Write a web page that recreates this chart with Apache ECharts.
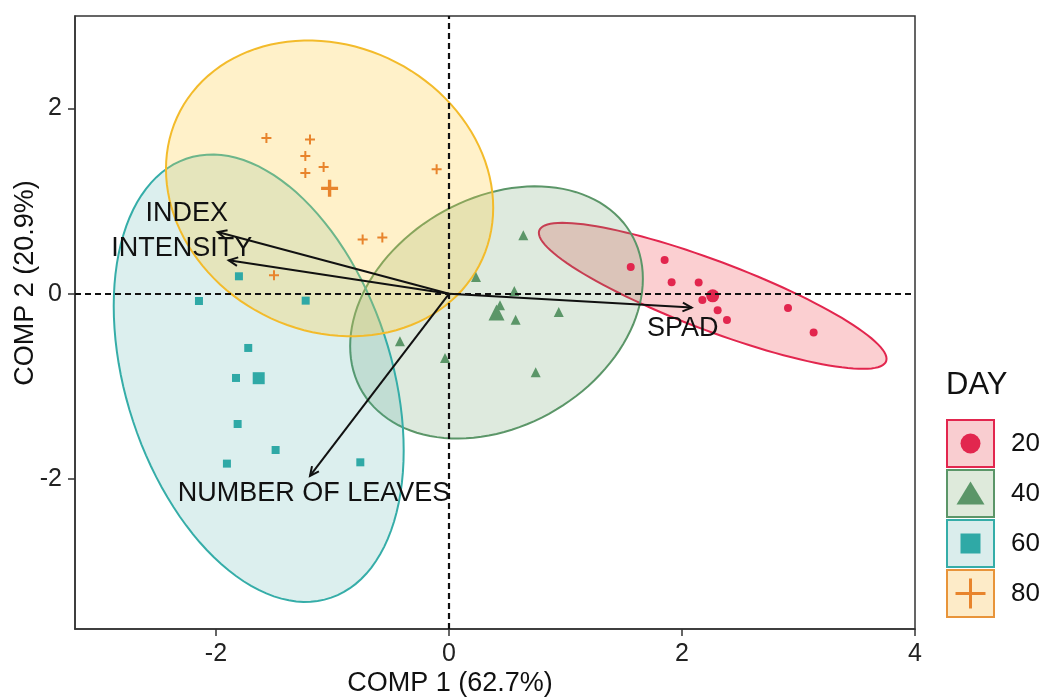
<!DOCTYPE html>
<html>
<head>
<meta charset="utf-8">
<title>PCA biplot by day</title>
<script src="https://cdn.jsdelivr.net/npm/echarts@6/dist/echarts.min.js"></script>
<style>
  html, body { margin: 0; padding: 0; background: #fff; }
  #chart { width: 1043px; height: 697px; }
</style>
</head>
<body>
<div id="chart"></div>
<script>
// ---- data ----
const days = ['20', '40', '60', '80'];

// individual scores (COMP 1, COMP 2)
const day20 = [[1.560, 0.289], [1.851, 0.365], [1.911, 0.124], [2.143, 0.121], [2.175, -0.067],
               [2.306, -0.178], [2.386, -0.283], [2.910, -0.153], [3.130, -0.419]];
const day40 = [[0.638, 0.632], [0.232, 0.181], [0.561, 0.030], [0.438, -0.124], [0.572, -0.279],
               [0.942, -0.197], [-0.421, -0.513], [-0.034, -0.693], [0.744, -0.848]];
const day60 = [[-1.803, 0.189], [-2.146, -0.078], [-1.230, -0.074], [-1.723, -0.585], [-1.828, -0.909],
               [-1.814, -1.406], [-1.488, -1.687], [-1.906, -1.834], [-0.761, -1.820]];
const day80 = [[-1.567, 1.683], [-1.193, 1.665], [-1.233, 1.488], [-1.076, 1.369], [-1.233, 1.305],
               [-0.106, 1.345], [-0.741, 0.585], [-0.572, 0.607], [-1.502, 0.200]];

// variable loadings
const variables = ['INDEX', 'INTENSITY', 'SPAD', 'NUMBER OF LEAVES'];
const loadings = [[-1.985, 0.667], [-1.891, 0.362], [2.083, -0.149], [-1.193, -1.967]];

const xTicks = [-2, 0, 2, 4];
const yTicks = [-2, 0, 2];
const xTitle = 'COMP 1 (62.7%)';
const yTitle = 'COMP 2 (20.9%)';
const legendTitle = 'DAY';

// ---- styles ----
const FONT = '"Liberation Sans", Arial, Helvetica, sans-serif';
const groupData = [day20, day40, day60, day80];
const pointColor = ['#E2264E', '#5B9668', '#2FA9A6', '#E8842C'];
const edgeColor = ['#E2264E', '#5B9668', '#35ADA8', '#F3BB2B'];
const fillColor = ['rgba(238,68,78,0.26)', 'rgba(100,155,100,0.21)', 'rgba(60,165,160,0.18)', 'rgba(255,205,60,0.28)'];
const keyEdge = ['#E2264E', '#5B9668', '#35ADA8', '#E8943A'];
const keyFill = ['#F9CDD0', '#DEEADB', '#DAEDEC', '#FDEBC8'];
const PLUS = 'path://M4,0H6V4H10V6H6V10H4V6H0V4H4Z';
const symbols = ['circle', 'triangle', 'rect', PLUS];
const pointSize = [8, 10, 8, 10];
const meanSize = [13, 16, 12, 17];
// text placement relative to each arrow tip, in pixels
const labelShift = [[-31, -18], [-47, -12], [-9, 21], [4, 18]];

// ---- helpers ----
function centroid(pts) {
  let sx = 0, sy = 0;
  pts.forEach(p => { sx += p[0]; sy += p[1]; });
  return [sx / pts.length, sy / pts.length];
}

// 95% normal-theory ellipse (sample covariance, F-based radius)
function ellipse(pts, level, segs) {
  const n = pts.length;
  const [mx, my] = centroid(pts);
  let sxx = 0, syy = 0, sxy = 0;
  pts.forEach(p => {
    const dx = p[0] - mx, dy = p[1] - my;
    sxx += dx * dx; syy += dy * dy; sxy += dx * dy;
  });
  sxx /= (n - 1); syy /= (n - 1); sxy /= (n - 1);
  const dfd = n - 1;
  const fq = (dfd / 2) * (Math.pow(1 - level, -2 / dfd) - 1);
  const r = Math.sqrt(2 * fq);
  const a = Math.sqrt(sxx), b = sxy / a, c = Math.sqrt(syy - b * b);
  const out = [];
  for (let i = 0; i <= segs; i++) {
    const t = 2 * Math.PI * i / segs;
    const ct = Math.cos(t), st = Math.sin(t);
    out.push([mx + r * a * ct, my + r * (b * ct + c * st)]);
  }
  return out;
}

const ellipses = groupData.map(g => ellipse(g, 0.95, 120));

// ---- series ----
const series = [];

groupData.forEach((g, i) => {
  series.push({
    type: 'custom',
    name: 'ellipse' + days[i],
    coordinateSystem: 'cartesian2d',
    data: [[0, 0]],
    z: 1,
    silent: true,
    renderItem: function (params, api) {
      const pts = ellipses[i].map(p => api.coord(p));
      return {
        type: 'polygon',
        shape: { points: pts },
        style: { fill: fillColor[i], stroke: edgeColor[i], lineWidth: 2 }
      };
    }
  });
});

// zero reference lines
series.push({
  type: 'scatter',
  data: [],
  z: 2,
  markLine: {
    silent: true,
    symbol: 'none',
    label: { show: false },
    lineStyle: { type: [6, 4], color: '#111', width: 2.2 },
    data: [{ xAxis: 0 }, { yAxis: 0 }],
    animation: false
  }
});

groupData.forEach((g, i) => {
  series.push({
    type: 'scatter',
    name: days[i],
    data: g,
    symbol: symbols[i],
    symbolSize: pointSize[i],
    itemStyle: { color: pointColor[i], opacity: 1 },
    z: 3
  });
  series.push({
    type: 'scatter',
    name: days[i] + ' mean',
    data: [centroid(g)],
    symbol: symbols[i],
    symbolSize: meanSize[i],
    itemStyle: { color: pointColor[i], opacity: 1 },
    z: 3
  });
});

// variable arrows
series.push({
  type: 'custom',
  coordinateSystem: 'cartesian2d',
  data: loadings.map((l, k) => [l[0], l[1], k]),
  z: 5,
  silent: true,
  renderItem: function (params, api) {
    const k = api.value(2);
    const o = api.coord([0, 0]);
    const e = api.coord([api.value(0), api.value(1)]);
    const ang = Math.atan2(e[1] - o[1], e[0] - o[0]);
    const hl = 10, ha = Math.PI / 7;
    const h1 = [e[0] - hl * Math.cos(ang - ha), e[1] - hl * Math.sin(ang - ha)];
    const h2 = [e[0] - hl * Math.cos(ang + ha), e[1] - hl * Math.sin(ang + ha)];
    const sh = labelShift[k];
    return {
      type: 'group',
      children: [
        { type: 'line', shape: { x1: o[0], y1: o[1], x2: e[0], y2: e[1] },
          style: { stroke: '#111', lineWidth: 2 } },
        { type: 'polyline', shape: { points: [h1, e, h2] },
          style: { stroke: '#111', lineWidth: 2, fill: null } },
        { type: 'text', x: e[0] + sh[0], y: e[1] + sh[1],
          style: { text: variables[k], fill: '#111', font: '27px ' + FONT,
                   align: 'center', verticalAlign: 'middle' } }
      ]
    };
  }
});

// ---- legend (drawn as graphics) ----
const graphics = [];
const KX = 947, KY = 420, KS = 47, KP = 50;
graphics.push({ type: 'text', left: 946, top: 370,
  style: { text: legendTitle, fill: '#111', font: '31px ' + FONT } });
days.forEach((d, i) => {
  const y0 = KY + i * KP;
  const cx = KX + KS / 2, cy = y0 + KS / 2;
  graphics.push({ type: 'rect', shape: { x: KX, y: y0, width: KS, height: KS },
    style: { fill: keyFill[i], stroke: keyEdge[i], lineWidth: 2 } });
  let sym;
  if (i === 0) sym = { type: 'circle', shape: { cx: cx, cy: cy, r: 10 }, style: { fill: pointColor[i] } };
  else if (i === 1) sym = { type: 'polygon', shape: { points: [[cx, cy - 12], [cx + 14, cy + 11], [cx - 14, cy + 11]] }, style: { fill: pointColor[i] } };
  else if (i === 2) sym = { type: 'rect', shape: { x: cx - 10, y: cy - 10, width: 20, height: 20 }, style: { fill: pointColor[i] } };
  else sym = { type: 'group', children: [
    { type: 'line', shape: { x1: cx - 15, y1: cy, x2: cx + 15, y2: cy }, style: { stroke: pointColor[i], lineWidth: 3 } },
    { type: 'line', shape: { x1: cx, y1: cy - 15, x2: cx, y2: cy + 15 }, style: { stroke: pointColor[i], lineWidth: 3 } }
  ] };
  graphics.push(sym);
  graphics.push({ type: 'text', x: 1011, y: cy,
    style: { text: d, fill: '#111', font: '26px ' + FONT, verticalAlign: 'middle' } });
});

// axis titles
graphics.push({ type: 'text', x: 450, y: 684,
  style: { text: xTitle, fill: '#111', font: '27px ' + FONT, align: 'center', verticalAlign: 'middle' } });
graphics.push({ type: 'text', x: 26, y: 283, rotation: Math.PI / 2,
  style: { text: yTitle, fill: '#111', font: '27px ' + FONT, align: 'center', verticalAlign: 'middle' } });

const axisCommon = {
  type: 'value',
  splitLine: { show: false },
  axisLine: { show: true, onZero: false, lineStyle: { color: '#333', width: 1.5 } },
  axisTick: { show: true, length: 7, lineStyle: { color: '#333', width: 1.5 } },
  axisLabel: { color: '#222', fontSize: 25, fontFamily: FONT, margin: 13 }
};

const option = {
  animation: false,
  backgroundColor: '#fff',
  grid: { left: 75, right: 128, top: 16, bottom: 68, show: true,
          borderColor: '#333', borderWidth: 1.5, backgroundColor: 'transparent' },
  xAxis: Object.assign({}, axisCommon, {
    min: -3.21, max: 4,
    axisTick: Object.assign({}, axisCommon.axisTick, { customValues: xTicks }),
    axisLabel: Object.assign({}, axisCommon.axisLabel, { customValues: xTicks })
  }),
  yAxis: Object.assign({}, axisCommon, {
    min: -3.62, max: 3.0,
    axisTick: Object.assign({}, axisCommon.axisTick, { customValues: yTicks }),
    axisLabel: Object.assign({}, axisCommon.axisLabel, { customValues: yTicks })
  }),
  graphic: graphics,
  series: series
};

const chart = echarts.init(document.getElementById('chart'), null, { renderer: 'canvas' });
chart.setOption(option);
</script>
</body>
</html>
